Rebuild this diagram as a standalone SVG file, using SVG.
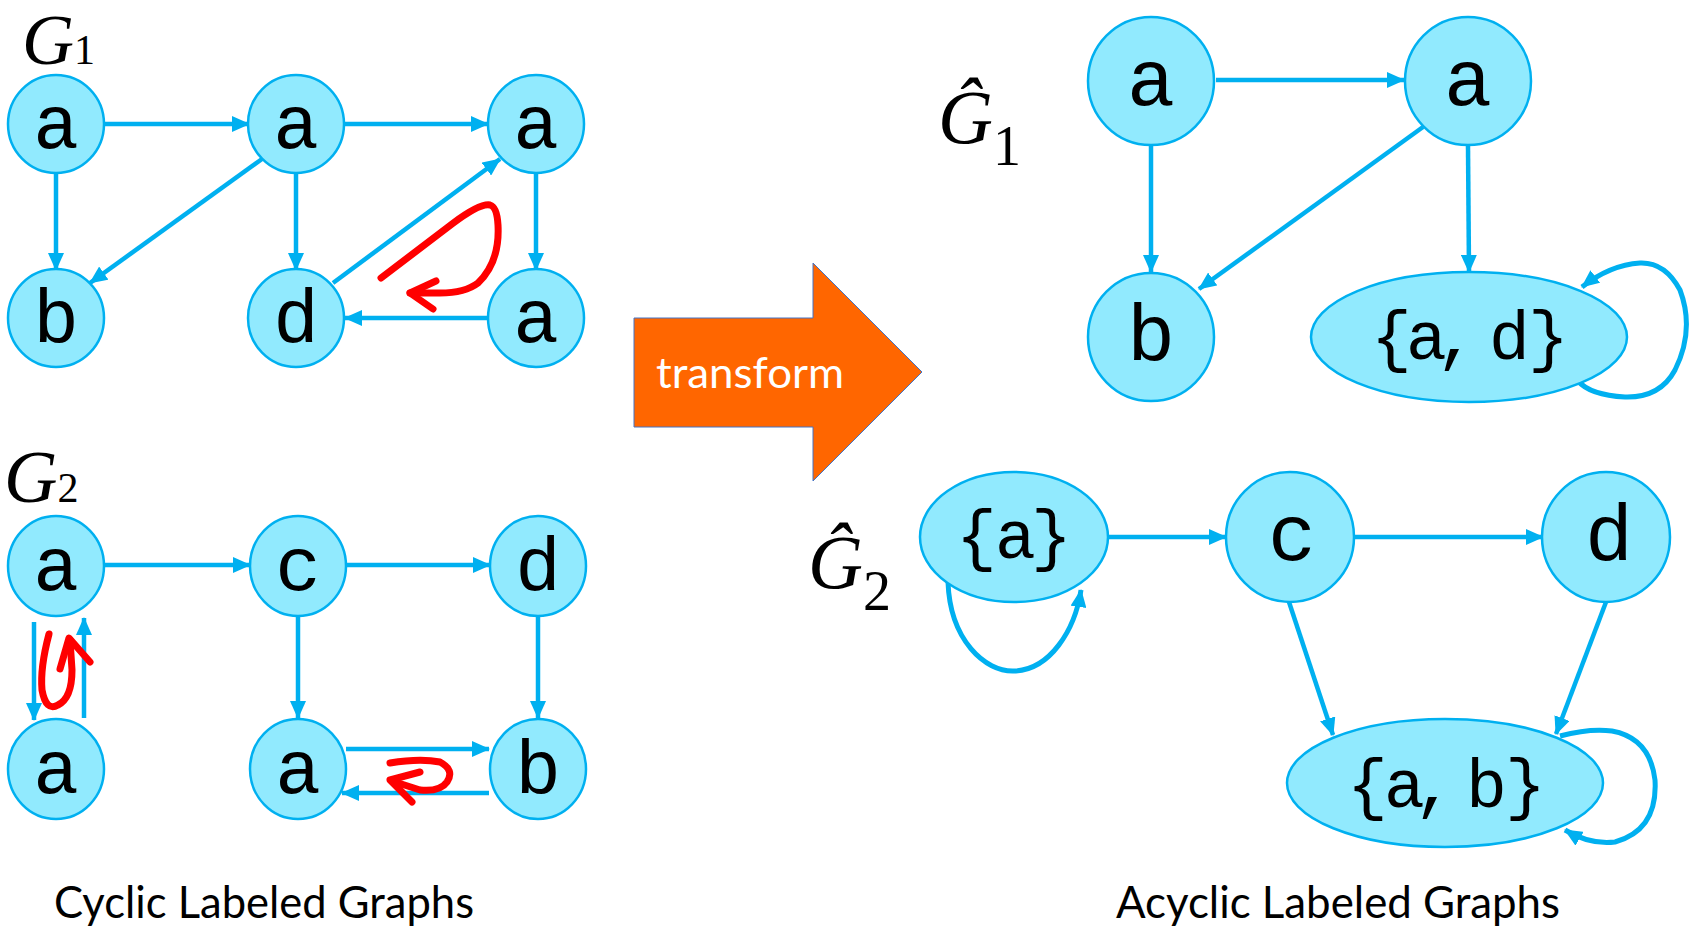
<svg xmlns="http://www.w3.org/2000/svg" width="1689" height="928" viewBox="0 0 1689 928">
<defs>
<style>
.node{fill:#91EAFE;stroke:#00B0F0;stroke-width:2.5}
.lbl{font-family:"Liberation Mono",monospace;fill:#000;text-anchor:middle}
.l1{font-size:76px}
.l2{font-size:80px}
.ls{font-size:68px}
.e{fill:none;stroke:#00B0F0;stroke-width:4.5;marker-end:url(#ah)}
.loop{fill:none;stroke:#00B0F0;stroke-width:5;marker-end:url(#ah)}
.red{fill:none;stroke:#FF0000;stroke-width:7;stroke-linecap:round;stroke-linejoin:round}
.gl{font-family:"Liberation Serif",serif;font-style:italic;fill:#000}
.cap{font-family:Lato,"Open Sans",sans-serif;fill:#000;font-size:44px}
</style>
<marker id="ah" markerUnits="userSpaceOnUse" markerWidth="18" markerHeight="16" refX="17" refY="8" orient="auto">
<path d="M0,0 L18,8 L0,16 z" fill="#00B0F0"/>
</marker>
</defs>
<rect width="1689" height="928" fill="#fff"/>

<!-- labels -->
<text id="labelG1" class="gl" x="22" y="64" font-size="72">G<tspan font-style="normal" font-size="42">1</tspan></text>
<text id="labelG2" class="gl" x="4" y="502" font-size="74">G<tspan font-style="normal" font-size="42">2</tspan></text>
<text id="labelG1hat" class="gl" x="938" y="143" font-size="76">Ĝ<tspan font-style="normal" font-size="56" dy="22">1</tspan></text>
<text id="labelG2hat" class="gl" x="808" y="588" font-size="76">Ĝ<tspan font-style="normal" font-size="56" dy="22">2</tspan></text>

<!-- connectors -->
<g id="connectors">
<path class="e" d="M104,124 L249,124"/>
<path class="e" d="M343,124 L488,124"/>
<path class="e" d="M56,172 L56,270"/>
<path class="e" d="M262,159 L90,283"/>
<path class="e" d="M296,172 L296,270"/>
<path class="e" d="M536,172 L536,270"/>
<path class="e" d="M333,283 L500,159"/>
<path class="e" d="M488,318 L345,318"/>

<path class="e" d="M104,565 L250,565"/>
<path class="e" d="M346,565 L490,565"/>
<path class="e" d="M298,616 L298,718"/>
<path class="e" d="M538,616 L538,718"/>
<path class="e" d="M34,622 L34,720"/>
<path class="e" d="M84,718 L84,618"/>
<path class="e" d="M346,749 L489,749"/>
<path class="e" d="M489,793 L342,793"/>

<path class="e" d="M1216,80 L1404,80"/>
<path class="e" d="M1151,146 L1151,272"/>
<path class="e" d="M1423,127 L1199,289"/>
<path class="e" d="M1468,146 L1469,272"/>
<path class="loop" d="M1578,381 Q1590,395 1625,397 Q1660,398 1675,370 Q1695,330 1680,290 Q1665,262 1640,263 Q1610,265 1582,287"/>

<path class="e" d="M1108,537 L1226,537"/>
<path class="e" d="M1355,537 L1543,537"/>
<path class="e" d="M1289,602 L1333,735"/>
<path class="e" d="M1606,602 L1556,734"/>
<path class="loop" d="M948,582 C950,640 985,672 1014,671 C1050,670 1075,630 1081,590"/>
<path class="loop" d="M1560,736 Q1590,728 1612,731 Q1650,738 1655,780 Q1658,830 1615,842 Q1590,845 1565,830"/>
</g>

<!-- red cycle marks -->
<g id="cycles">
<path class="red" d="M381,278 L452,224 Q480,203 490,205 Q497,207 498,225 Q500,262 478,283 Q465,293 440,293 L410,293"/>
<path class="red" d="M436,281 L410,293 L433,309"/>
<path class="red" d="M49,634 Q40,668 42,690 Q46,712 58,705 Q72,698 72,670 L70,640"/>
<path class="red" d="M60,669 L69,638 L90,662"/>
<path class="red" d="M390,763 Q420,758 440,762 Q455,770 447,782 Q440,792 420,790 L392,781"/>
<path class="red" d="M420,772 L390,780 L412,802"/>
</g>

<!-- G1 nodes -->
<g id="g1_a1"><ellipse class="node" cx="56" cy="124" rx="48" ry="49"/><text class="lbl l1" x="56" y="148">a</text></g>
<g id="g1_a2"><ellipse class="node" cx="296" cy="124" rx="48" ry="49"/><text class="lbl l1" x="296" y="148">a</text></g>
<g id="g1_a3"><ellipse class="node" cx="536" cy="124" rx="48" ry="49"/><text class="lbl l1" x="536" y="148">a</text></g>
<g id="g1_b"><ellipse class="node" cx="56" cy="318" rx="48" ry="49"/><text class="lbl l1" x="56" y="342">b</text></g>
<g id="g1_d"><ellipse class="node" cx="296" cy="318" rx="48" ry="49"/><text class="lbl l1" x="296" y="342">d</text></g>
<g id="g1_a4"><ellipse class="node" cx="536" cy="318" rx="48" ry="49"/><text class="lbl l1" x="536" y="342">a</text></g>

<!-- G2 nodes -->
<g id="g2_a1"><ellipse class="node" cx="56" cy="566" rx="48" ry="50"/><text class="lbl l1" x="56" y="590">a</text></g>
<g id="g2_c"><ellipse class="node" cx="298" cy="566" rx="48" ry="50"/><text class="lbl l1" x="298" y="590">c</text></g>
<g id="g2_d"><ellipse class="node" cx="538" cy="566" rx="48" ry="50"/><text class="lbl l1" x="538" y="590">d</text></g>
<g id="g2_a2"><ellipse class="node" cx="56" cy="769" rx="48" ry="50"/><text class="lbl l1" x="56" y="793">a</text></g>
<g id="g2_a3"><ellipse class="node" cx="298" cy="769" rx="48" ry="50"/><text class="lbl l1" x="298" y="793">a</text></g>
<g id="g2_b"><ellipse class="node" cx="538" cy="769" rx="48" ry="50"/><text class="lbl l1" x="538" y="793">b</text></g>

<!-- transform arrow -->
<g id="transform">
<polygon points="634,318 813,318 813,263 922,372 813,481 813,427 634,427" fill="#FF6600" stroke="#4472C4" stroke-width="1"/>
<text x="656" y="388" font-family="Lato,'Open Sans',sans-serif" font-size="42" fill="#fff" textLength="188" lengthAdjust="spacingAndGlyphs">transform</text>
</g>

<!-- G1 hat nodes -->
<g id="h1_a1"><ellipse class="node" cx="1151" cy="81" rx="63" ry="64"/><text class="lbl l2" x="1151" y="105">a</text></g>
<g id="h1_a2"><ellipse class="node" cx="1468" cy="81" rx="63" ry="64"/><text class="lbl l2" x="1468" y="105">a</text></g>
<g id="h1_b"><ellipse class="node" cx="1151" cy="337" rx="63" ry="64"/><text class="lbl l2" x="1151" y="360">b</text></g>
<g id="h1_ad"><ellipse class="node" cx="1469" cy="337" rx="158" ry="65"/><text class="lbl ls" style="text-anchor:start" x="1371 1406 1436 1460 1489 1528" y="359">{a, d}</text></g>

<!-- G2 hat nodes -->
<g id="h2_a"><ellipse class="node" cx="1014" cy="537" rx="94" ry="65"/><text class="lbl ls" style="text-anchor:start" x="956 995 1031" y="558">{a}</text></g>
<g id="h2_c"><ellipse class="node" cx="1290" cy="537" rx="64" ry="65"/><text class="lbl l2" x="1292" y="560">c</text></g>
<g id="h2_d"><ellipse class="node" cx="1606" cy="537" rx="64" ry="65"/><text class="lbl l2" x="1609" y="560">d</text></g>
<g id="h2_ab"><ellipse class="node" cx="1445" cy="783" rx="158" ry="64"/><text class="lbl ls" style="text-anchor:start" x="1347 1384 1414 1440 1466 1505" y="807">{a, b}</text></g>

<!-- captions -->
<text id="cap1" class="cap" x="54" y="918" textLength="420" lengthAdjust="spacingAndGlyphs">Cyclic Labeled Graphs</text>
<text id="cap2" class="cap" x="1116" y="918" textLength="444" lengthAdjust="spacingAndGlyphs">Acyclic Labeled Graphs</text>
</svg>
